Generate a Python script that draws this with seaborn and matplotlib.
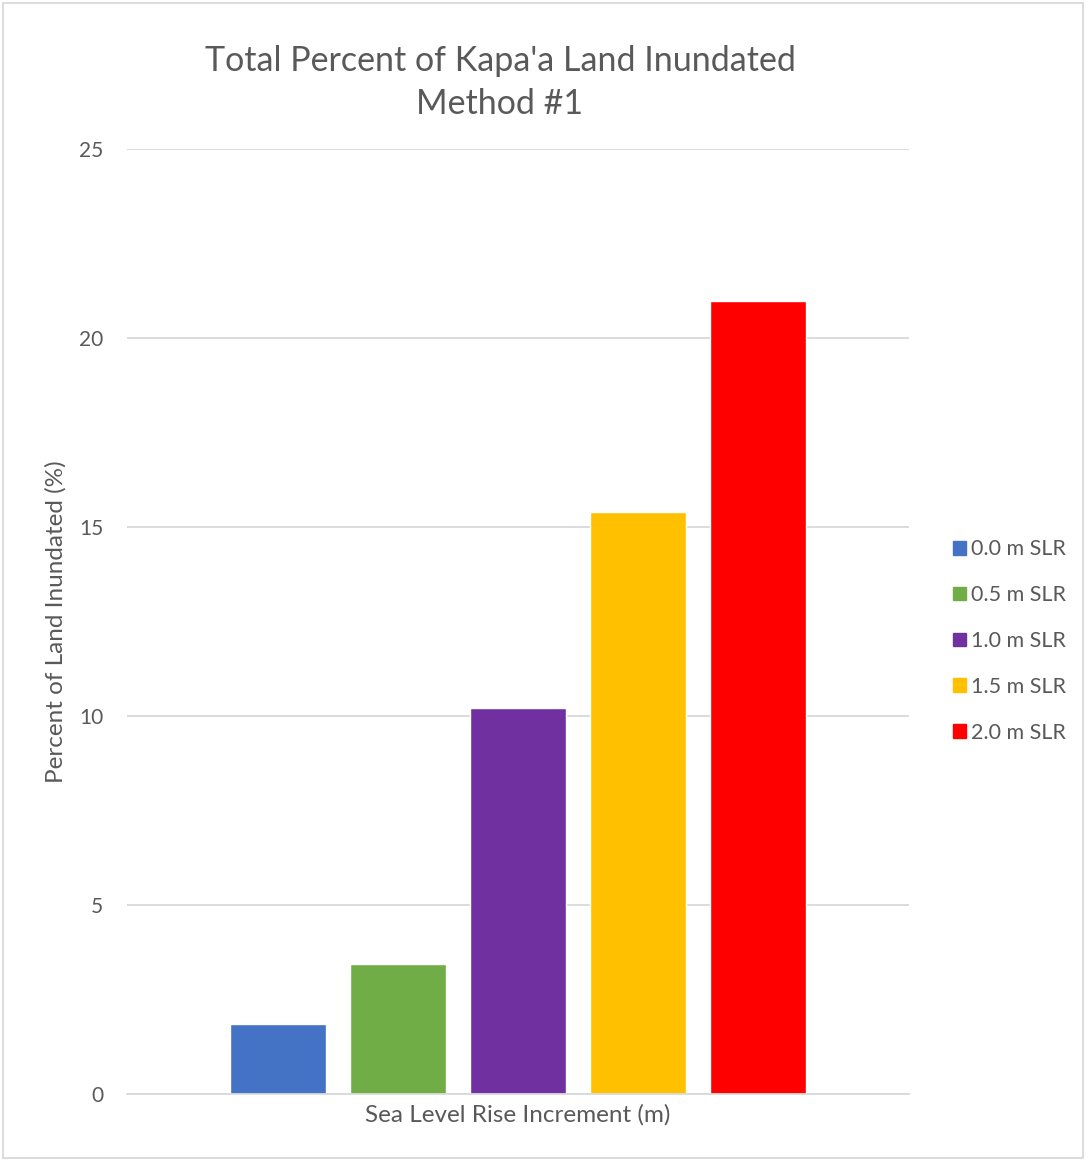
import numpy as np
import pandas as pd
import seaborn as sns
import matplotlib.pyplot as plt
from matplotlib.patches import Rectangle

# data
increments = ['0.0 m SLR', '0.5 m SLR', '1.0 m SLR', '1.5 m SLR', '2.0 m SLR']
percent_inundated = [1.84, 3.43, 10.22, 15.39, 20.98]
bar_colors = ['#4472C4', '#70AD47', '#7030A0', '#FFC000', '#FF0000']
y_ticks = [0, 5, 10, 15, 20, 25]

df = pd.DataFrame({'increment': increments, 'pct': percent_inundated})

sns.set_theme(style='white')
plt.rcParams['font.family'] = ['Lato', 'DejaVu Sans']
text_gray = '#595959'
grid_gray = '#d9d9d9'

fig = plt.figure(figsize=(10.86, 11.6), dpi=100)
ax = fig.add_axes([127 / 1086, 1 - 1094 / 1160, (909 - 127) / 1086, (1094 - 149) / 1160])

sns.barplot(data=df, x='increment', y='pct', hue='increment', palette=bar_colors,
            width=0.8, dodge=False, legend=False, saturation=1, ax=ax)

ax.set_xlim(-1.255, 5.255)
ax.set_ylim(0, 25)
ax.set_yticks(y_ticks)
ax.set_yticklabels([str(t) for t in y_ticks], fontsize=15, color=text_gray)
ax.set_xticks([])
ax.tick_params(axis='y', length=0, pad=17)
ax.yaxis.grid(True, color=grid_gray, linewidth=1.3)
ax.set_axisbelow(True)
for side in ['top', 'right', 'left']:
    ax.spines[side].set_visible(False)
ax.spines['bottom'].set_color(grid_gray)
ax.spines['bottom'].set_linewidth(1.3)

ax.set_xlabel('Sea Level Rise Increment (m)', fontsize=17.5, color=text_gray, labelpad=7)
ax.set_ylabel('Percent of Land Inundated (%)', fontsize=17.5, color=text_gray, labelpad=9)

fig.text(500 / 1086, 1 - 61 / 1160, "Total Percent of Kapa'a Land Inundated",
         ha='center', va='center', fontsize=24.5, color=text_gray)
fig.text(500 / 1086, 1 - 104 / 1160, 'Method #1',
         ha='center', va='center', fontsize=24.5, color=text_gray)

# legend to the right of the plot area
handles = [Rectangle((0, 0), 1, 1, color=c) for c in bar_colors]
leg = fig.legend(handles, increments, loc='center left',
                 bbox_to_anchor=(942 / 1086, 1 - 641 / 1160), frameon=False,
                 fontsize=15.5, handlelength=0.6, handleheight=0.6,
                 handletextpad=0.25, labelspacing=1.2, borderpad=0)
for t in leg.get_texts():
    t.set_color(text_gray)

# light chart-area border
fig.patches.append(Rectangle((0.003, 0.002), 0.994, 0.995, transform=fig.transFigure,
                             fill=False, edgecolor=grid_gray, linewidth=1.3))

fig.savefig('out.png', dpi=100)
